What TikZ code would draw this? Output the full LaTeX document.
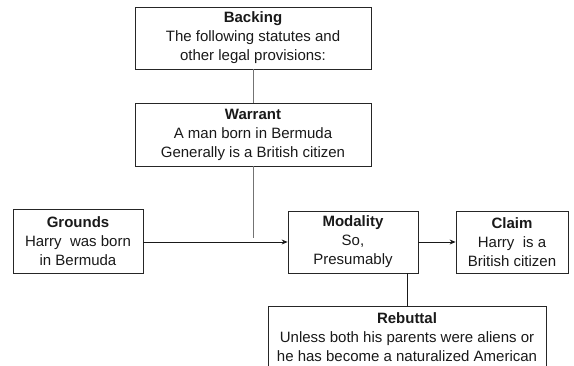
\documentclass[tikz,border=0pt]{standalone}
\usepackage{fontspec}
\setmainfont{Liberation Sans}
\usetikzlibrary{arrows.meta}
\begin{document}
\begin{tikzpicture}[x=1pt,y=-1pt,
  box/.style={draw=black!85,line width=0.8pt,rectangle,inner sep=0pt,align=center,
    font=\fontsize{15}{19}\selectfont,text=black!90},
  gline/.style={draw=black!55,line width=1pt},
  bline/.style={draw=black!90,line width=0.8pt},
  arr/.style={bline,-{Stealth[length=6pt,width=5pt]}}]
\useasboundingbox (0,0) rectangle (574,366);
\begin{scope}
\clip (0,0) rectangle (574,366);
\node[box,minimum width=236pt,minimum height=62pt] (backing) at (253,38)
  {\textbf{Backing}\\The following statutes and\\other legal provisions:};
\node[box,minimum width=236pt,minimum height=63pt] (warrant) at (253,134.5)
  {\textbf{Warrant}\\A man born in Bermuda\\Generally is a British citizen};
\node[box,minimum width=130pt,minimum height=64pt] (grounds) at (78,241)
  {\textbf{Grounds}\\Harry~ was born\\in Bermuda};
\node[box,minimum width=130pt,minimum height=62pt] (modality) at (353,242)
  {\textbf{Modality}\\So,\\Presumably};
\node[box,minimum width=112pt,minimum height=62pt] (claim) at (512,242)
  {\textbf{Claim}\\Harry~ is a\\British citizen};
\node[box,minimum width=278pt,minimum height=62pt] (rebuttal) at (407,337)
  {\textbf{Rebuttal}\\Unless both his parents were aliens or\\he has become a naturalized American};
\coordinate (wend) at (253,238);
\draw[gline] (backing.south) -- (warrant.north);
\draw[gline] (warrant.south) -- (wend);
\draw[arr] (grounds.east |- modality.west) -- (modality.west);
\draw[arr] (modality.east) -- (claim.west);
\draw[bline] (modality.south -| rebuttal.north) -- (rebuttal.north);
\end{scope}
\end{tikzpicture}
\end{document}
